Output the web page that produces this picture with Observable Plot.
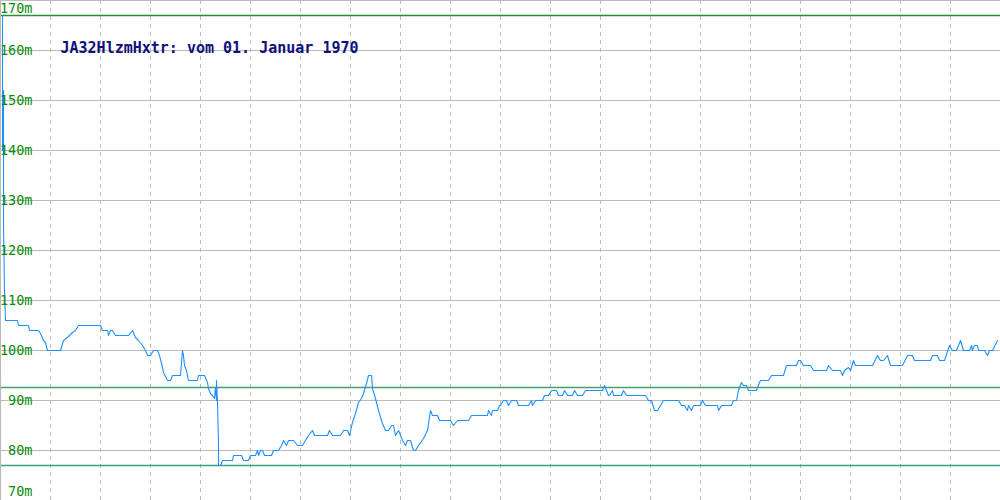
<!DOCTYPE html>
<html>
<head>
<meta charset="utf-8">
<script src="https://cdn.jsdelivr.net/npm/d3@7"></script>
<script src="https://cdn.jsdelivr.net/npm/@observablehq/plot@0.6"></script>
<style>
  html, body { margin: 0; padding: 0; background: #fff; }
  #chart svg { display: block; }
</style>
</head>
<body>
<div id="chart"></div>
<script>
// ---- data ----
const titleText = "JA32HlzmHxtr: vom 01. Januar 1970";
const yTicks = [70, 80, 90, 100, 110, 120, 130, 140, 150, 160, 170];
const xGrid = [50, 100, 150, 200, 250, 300, 350, 400, 450, 500, 550, 600, 650, 700, 750, 800, 850, 900, 950];

// sample position (0..1000) and level in metres
const t = [0, 0, 1, 2, 2, 3, 3, 4, 5, 17, 18, 28, 29, 38, 40, 43, 45, 47, 60, 63, 67, 72, 75, 78, 100, 102, 107, 108, 110, 112, 115, 128, 132, 135, 138, 142, 145, 147, 150, 153, 157, 159, 162, 163, 167, 170, 172, 180, 182, 183, 184, 186, 188, 197, 198, 204, 207, 208, 210, 212, 214, 215, 216, 216, 217, 218, 218, 220, 222, 232, 233, 241, 243, 248, 250, 255, 257, 258, 260, 262, 264, 271, 273, 278, 281, 283, 286, 288, 293, 297, 302, 305, 308, 312, 314, 327, 329, 332, 334, 340, 343, 347, 349, 352, 355, 358, 361, 363, 366, 368, 371, 372, 375, 378, 382, 385, 388, 391, 393, 395, 398, 402, 405, 407, 410, 413, 415, 418, 423, 427, 430, 432, 437, 439, 450, 453, 457, 468, 471, 487, 488, 491, 492, 497, 499, 500, 503, 506, 508, 511, 516, 518, 528, 531, 532, 535, 542, 544, 548, 551, 556, 558, 562, 564, 567, 572, 574, 577, 582, 585, 602, 604, 606, 608, 609, 612, 613, 621, 623, 626, 645, 648, 651, 654, 657, 660, 663, 678, 681, 684, 687, 688, 691, 693, 700, 702, 705, 717, 718, 721, 731, 733, 736, 738, 741, 743, 746, 748, 756, 759, 760, 768, 771, 783, 786, 796, 798, 800, 803, 810, 813, 826, 828, 832, 840, 842, 844, 848, 850, 853, 855, 872, 877, 880, 883, 887, 890, 902, 907, 912, 914, 930, 932, 937, 939, 944, 949, 952, 956, 960, 963, 969, 971, 972, 974, 977, 978, 984, 987, 989, 992, 997];
const level = [60, 94.6, NaN, 167, 140, 152, 125, 112, 106, 106, 105, 105, 104, 104, 103.4, 102, 101.6, 100, 100, 102, 102.6, 103.6, 104, 105, 105, 104, 104, 103, 104, 104, 103, 103, 104, 102.6, 102, 101, 100, 99, 99, 100, 100, 99, 96.6, 95.6, 94, 94, 95, 95, 100, 99, 97, 96, 94, 94, 95, 95, 93.6, 92.4, 91.4, 91, 90.4, 92.6, 90, 94, 89.6, 81.4, 77, 77, 78, 78, 79, 79, 78, 78, 79, 79, 80, 79, 80, 80, 79, 79, 80, 80, 81, 82, 81, 82, 82, 81, 81, 82, 83, 84, 83, 83, 84, 83, 83, 83, 84, 84, 83, 85.6, 87.4, 89.6, 90.4, 91.4, 93.4, 95, 95, 92.4, 90.4, 88, 85.4, 84, 84, 85, 85, 83, 84, 82, 81, 82, 82, 80, 80, 81, 82.4, 84, 88, 87, 87, 86, 86, 85, 86, 86, 87, 87, 88, 87, 88, 88, 89, 89, 90, 90, 89, 90, 90, 89, 89, 90, 89, 90, 90, 91, 91, 92, 92, 91, 91, 92, 91, 91, 92, 91, 91, 92, 92, 93, 92, 91, 91, 92, 91, 91, 92, 91, 91, 90, 90, 88, 88, 89, 90, 90, 89, 89, 88, 89, 88, 89, 89, 90, 89, 89, 88, 89, 89, 90, 90, 92, 93.6, 93, 93, 92, 92, 93.6, 94, 94, 95, 95, 97, 97, 98, 98, 97, 97, 96, 96, 97, 96, 96, 95, 96, 96.6, 96, 98, 97, 97, 99, 98, 98, 99, 97, 97, 99, 99, 98, 98, 99, 99, 98, 98, 101, 100, 100, 102, 100, 100, 101, 100, 101, 101, 100, 100, 99, 100, 100, 102];

// max / average / min reference levels
const refNames = ["max", "avg", "min"];
const refLevels = [167, 92.6, 77];
const refColors = ["#2e8b2e", "#4a9e6e", "#35a08c"];

const series = t.map((x, i) => ({t: x, level: level[i]}));
const refs = refNames.map((n, i) => ({name: n, level: refLevels[i], color: refColors[i]}));
const labelsMain = yTicks.filter(d => d !== 170 && d !== 70);
const labelsTop = yTicks.filter(d => d === 170);
const labelsBottom = yTicks.filter(d => d === 70);

const monoFont = "DejaVu Sans Mono, monospace";
const labelStyle = {
  frameAnchor: "left", textAnchor: "end", dx: 32,
  fill: "#0a8a0a", fontSize: 13.5, fontFamily: monoFont
};

const chart = Plot.plot({
  width: 1000,
  height: 500,
  margin: 0,
  style: {background: "#fff", fontFamily: monoFont},
  x: {domain: [0, 1000], axis: null},
  y: {domain: [70, 170], axis: null},
  marks: [
    Plot.ruleY(yTicks, {stroke: "#bbbbbb", strokeWidth: 1}),
    Plot.ruleX(xGrid, {stroke: "#bbbbbb", strokeWidth: 1, strokeDasharray: "4,4"}),
    Plot.ruleY(refs, {y: "level", stroke: "color", strokeWidth: 1.3}),
    Plot.line(series, {x: "t", y: "level", stroke: "#1e90ff", strokeWidth: 1.1, clip: true}),
    Plot.text(labelsMain, {y: d => d, text: d => `${d}m`, ...labelStyle}),
    Plot.text(labelsTop, {y: d => d, text: d => `${d}m`, ...labelStyle, dy: 8}),
    Plot.text(labelsBottom, {y: d => d, text: d => `${d}m`, ...labelStyle, dy: -9}),
    Plot.text([titleText], {
      text: d => d, frameAnchor: "top-left", dx: 60, dy: 48, lineAnchor: "middle",
      fill: "#10107a", fontSize: 15, fontWeight: "bold", fontFamily: monoFont
    }),
    Plot.frame({stroke: "#bbbbbb"})
  ]
});
document.getElementById("chart").appendChild(chart);
</script>
</body>
</html>
